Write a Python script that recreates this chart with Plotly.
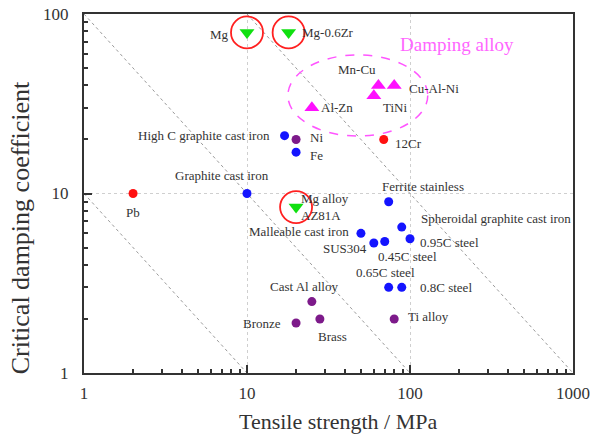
import numpy as np
import plotly.graph_objects as go

# ---------------- data (tensile strength MPa, critical damping coefficient) -------------
iron_names = ["High C graphite cast iron", "Fe", "Graphite cast iron", "Ferrite stainless",
              "Spheroidal graphite cast iron", "Malleable cast iron", "SUS304", "0.45C steel",
              "0.95C steel", "0.65C steel", "0.8C steel"]
iron_x = [17, 20, 10, 74, 89, 50, 60, 70, 100, 74, 89]
iron_y = [21, 17, 10, 9, 6.5, 6, 5.3, 5.4, 5.6, 3, 3]

red_names = ["Pb", "12Cr"]
red_x = [2, 69]
red_y = [10, 20]

purple_names = ["Ni", "Cast Al alloy", "Bronze", "Brass", "Ti alloy"]
purple_x = [20, 25, 20, 28, 80]
purple_y = [20, 2.5, 1.9, 2, 2]

mg_names = ["Mg", "Mg-0.6Zr", "Mg alloy<br>AZ81A"]
mg_x = [10, 18, 20]
mg_y = [79, 79, 8.4]

damp_names = ["Mn-Cu", "Cu-Al-Ni", "TiNi", "Al-Zn"]
damp_x = [64, 80, 60, 25]
damp_y = [40, 40, 35, 30]

iso_products = [10, 100, 1000]   # guide lines: strength x damping = const

x_ticks = [1, 10, 100, 1000]
y_ticks = [1, 10, 100]

# label placement: (xanchor, xshift px, yshift px)
label_pos = {
    "Mg": ("right", -16, -2),
    "Mg-0.6Zr": ("left", 11, 0),
    "Mg alloy<br>AZ81A": ("left", 3, 0),
    "Mn-Cu": ("center", -21, 16),
    "Cu-Al-Ni": ("left", 13, -3),
    "TiNi": ("left", 7, -12),
    "Al-Zn": ("left", 7, 0),
    "High C graphite cast iron": ("right", -13, 0),
    "Ni": ("left", 12, 2),
    "Fe": ("left", 12, -3),
    "12Cr": ("left", 9, -4),
    "Pb": ("center", 0, -19),
    "Graphite cast iron": ("right", 24, 18),
    "Ferrite stainless": ("left", -9, 15),
    "Spheroidal graphite cast iron": ("left", 17, 9),
    "Malleable cast iron": ("right", -10, 2),
    "SUS304": ("right", -5, -6),
    "0.45C steel": ("center", 23, -15),
    "0.95C steel": ("left", 8, -4),
    "0.65C steel": ("center", -3, 15),
    "0.8C steel": ("left", 16, 0),
    "Cast Al alloy": ("center", -8, 15),
    "Bronze": ("right", -13, -1),
    "Brass": ("center", 13, -18),
    "Ti alloy": ("left", 12, 2),
}

SERIF = "Liberation Serif, Times New Roman, serif"
TXT = "#333333"

fig = go.Figure()

# iso lines
for k in iso_products:
    x0 = max(1, k / 100)
    x1 = min(1000, k)
    fig.add_trace(go.Scatter(x=[x0, x1], y=[k / x0, k / x1], mode="lines",
                             line=dict(color="#9a9a9a", width=1, dash="dot"),
                             hoverinfo="skip", showlegend=False))

def pts(x, y, color, symbol="circle", size=9):
    fig.add_trace(go.Scatter(x=x, y=y, mode="markers",
                             marker=dict(color=color, symbol=symbol, size=size,
                                         line=dict(width=0)),
                             showlegend=False))

pts(iron_x, iron_y, "#1414ff")
pts(red_x, red_y, "#ff1010")
pts(purple_x, purple_y, "#7d1a8a")
pts(mg_x, mg_y, "#10e010", "triangle-down", 13)
pts(damp_x, damp_y, "#ff10ff", "triangle-up", 13)

# red highlight circles around Mg materials
fig.add_trace(go.Scatter(x=mg_x, y=mg_y, mode="markers",
                         marker=dict(symbol="circle-open", size=32, color="#ff2020",
                                     line=dict(color="#ff2020", width=1.8)),
                         hoverinfo="skip", showlegend=False))

annotations = []
for names, xs, ys in [(iron_names, iron_x, iron_y), (red_names, red_x, red_y),
                      (purple_names, purple_x, purple_y), (mg_names, mg_x, mg_y),
                      (damp_names, damp_x, damp_y)]:
    for n, xv, yv in zip(names, xs, ys):
        anc, dx, dy = label_pos[n]
        annotations.append(dict(x=np.log10(xv), y=np.log10(yv), xref="x", yref="y",
                                text=n, showarrow=False, xanchor=anc, yanchor="middle",
                                xshift=dx, yshift=dy, align="left",
                                font=dict(family=SERIF, size=13, color=TXT)))

annotations.append(dict(x=0.763, y=0.914, xref="paper", yref="paper", text="Damping alloy",
                        showarrow=False, xanchor="center", yanchor="middle",
                        font=dict(family=SERIF, size=19, color="#ff66ff")))
annotations.append(dict(x=0.521, y=-0.136, xref="paper", yref="paper",
                        text="Tensile strength / MPa", showarrow=False,
                        xanchor="center", yanchor="middle",
                        font=dict(family=SERIF, size=22, color=TXT)))
annotations.append(dict(x=-0.128, y=0.404, xref="paper", yref="paper",
                        text="Critical damping coefficient", showarrow=False, textangle=-90,
                        xanchor="center", yanchor="middle",
                        font=dict(family=SERIF, size=26, color=TXT)))

shapes = [dict(type="circle", xref="paper", yref="paper", x0=0.417, x1=0.703,
               y0=0.660, y1=0.886, line=dict(color="#ff55ff", width=1.5, dash="dash"))]

axis_common = dict(type="log", tickmode="array", ticks="inside", ticklen=8, tickwidth=1.5,
                   tickcolor=TXT, showline=True, mirror=True, linewidth=2, linecolor=TXT,
                   showgrid=True, gridcolor="#cfcfcf", griddash="dot", gridwidth=1,
                   zeroline=False, automargin=False,
                   tickfont=dict(family=SERIF, size=17, color=TXT))

minor_x = [m * d for d in [1, 10, 100] for m in range(2, 10)]
minor_y = [m * d for d in [1, 10] for m in range(2, 10)]

fig.update_layout(
    width=592, height=434,
    margin=dict(l=84, r=19, t=14, b=61),
    paper_bgcolor="white", plot_bgcolor="white",
    xaxis=dict(range=[0, 3], tickvals=x_ticks, ticktext=[str(v) for v in x_ticks],
               ticklabelstandoff=4,
               minor=dict(tickmode="array", tickvals=minor_x, ticks="inside", ticklen=4,
                          tickcolor=TXT, showgrid=False),
               **axis_common),
    yaxis=dict(range=[0, 2], tickvals=y_ticks, ticktext=[str(v) for v in y_ticks],
               ticklabelstandoff=10,
               minor=dict(tickmode="array", tickvals=minor_y, ticks="inside", ticklen=4,
                          tickcolor=TXT, showgrid=False),
               **axis_common),
    annotations=annotations,
    shapes=shapes,
    showlegend=False,
)

fig.write_html("out.html")
